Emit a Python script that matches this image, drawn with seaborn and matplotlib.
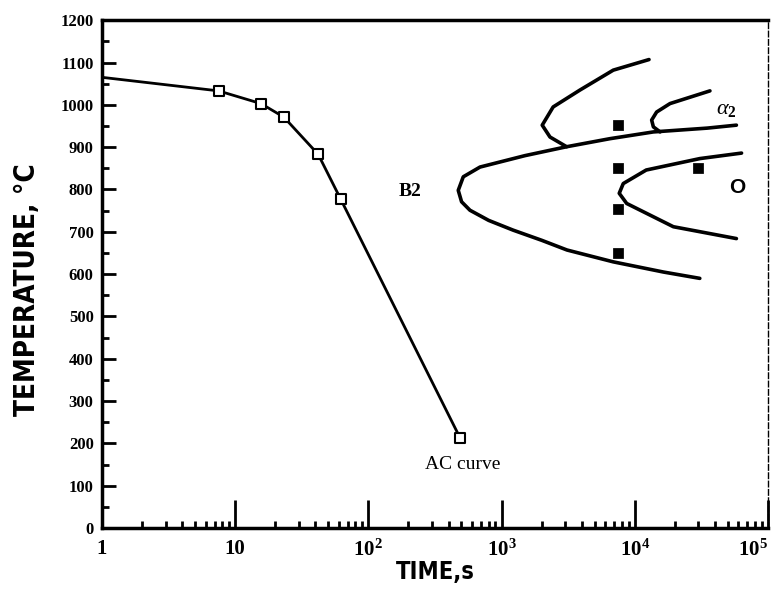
import matplotlib
matplotlib.use("Agg")
import matplotlib.pyplot as plt
import matplotlib.ticker as mticker
import seaborn as sns
import pandas as pd

# AC cooling curve (open squares, first point has no marker)
ac_time = [1, 7.5, 15.6, 23.2, 42, 62, 490]
ac_temp = [1065, 1033, 1003, 971, 883, 777, 212]

# big C-curve bounding the B2 field
b2_time = [5.8e4, 3.5e4, 1.38e4, 6.5e3, 3.08e3, 1.5e3, 689, 516, 473, 501, 579,
           800, 1.22e3, 2.0e3, 3.1e3, 6.9e3, 1.64e4, 3.08e4]
b2_temp = [952, 945, 936, 920, 901, 880, 853, 830, 798, 771, 751,
           727, 704, 680, 657, 629, 605, 590]

# upper-left curve
up_time = [1.28e4, 6.9e3, 3.88e3, 2.44e3, 2.02e3, 2.31e3, 3.08e3]
up_temp = [1107, 1082, 1035, 995, 952, 924, 901]

# alpha2 curve
a2_time = [3.67e4, 1.84e4, 1.46e4, 1.34e4, 1.38e4, 1.55e4]
a2_temp = [1033, 1003, 983, 964, 948, 936]

# O phase curve
o_time = [6.34e4, 3.08e4, 1.22e4, 8.2e3, 7.65e3, 8.7e3, 1.95e4, 5.8e4]
o_temp = [886, 873, 846, 814, 791, 767, 712, 684]

# heat treatment points (filled squares)
ht_time = [7.5e3, 7.5e3, 7.5e3, 7.5e3, 3.0e4]
ht_temp = [952, 850, 753, 651, 850]

x_ticks = [1, 10, 100, 1e3, 1e4, 1e5]
x_labels = ["1", "10", "$10^2$", "$10^3$", "$10^4$", "$10^5$"]

sns.set_style("ticks")
plt.rcParams["mathtext.fontset"] = "custom"
plt.rcParams["mathtext.rm"] = "Liberation Serif:bold"
plt.rcParams["mathtext.it"] = "Liberation Serif:italic"
plt.rcParams["mathtext.bf"] = "Liberation Serif:bold"
for key in ["text.color", "axes.labelcolor", "axes.edgecolor", "xtick.color", "ytick.color"]:
    plt.rcParams[key] = "black"

fig = plt.figure(figsize=(7.71, 5.94), dpi=100)
ax = fig.add_axes([0.1323, 0.111, 0.8637, 0.855])

ac = pd.DataFrame({"time": ac_time, "temp": ac_temp})
sns.lineplot(data=ac, x="time", y="temp", sort=False, estimator=None,
             color="black", lw=2, ax=ax)
sns.scatterplot(data=ac.iloc[1:], x="time", y="temp", marker="s", s=50,
                facecolor="white", edgecolor="black", linewidth=1.5, ax=ax, zorder=5)

for t, T in [(b2_time, b2_temp), (up_time, up_temp), (a2_time, a2_temp), (o_time, o_temp)]:
    curve = pd.DataFrame({"time": t, "temp": T})
    sns.lineplot(data=curve, x="time", y="temp", sort=False, estimator=None,
                 color="black", lw=2.6, ax=ax)

sns.scatterplot(x=ht_time, y=ht_temp, marker="s", s=45, color="black",
                edgecolor="black", ax=ax, zorder=5)

ax.set_xscale("log")
ax.set_xlim(1, 1e5)
ax.set_ylim(0, 1200)
ax.set_xticks(x_ticks)
ax.set_xticklabels(x_labels)
ax.xaxis.set_minor_locator(mticker.LogLocator(base=10, subs=range(2, 10)))
ax.xaxis.set_minor_formatter(mticker.NullFormatter())
ax.set_yticks(range(0, 1201, 100))
ax.yaxis.set_minor_locator(mticker.MultipleLocator(50))

ax.tick_params(axis="x", which="major", direction="in", length=20, width=2, pad=8)
ax.tick_params(axis="x", which="minor", direction="in", length=5, width=2)
ax.tick_params(axis="y", which="major", direction="in", length=10, width=2, pad=6)
ax.tick_params(axis="y", which="minor", direction="in", length=5, width=2)
for lab in ax.get_yticklabels():
    lab.set_fontfamily("Liberation Serif")
    lab.set_fontweight("bold")
    lab.set_fontsize(12)
for lab in ax.get_xticklabels():
    lab.set_fontfamily("Liberation Serif")
    lab.set_fontweight("bold")
    lab.set_fontsize(15)
ax.get_xticklabels()[-1].set_ha("right")

for side in ["left", "bottom", "top"]:
    ax.spines[side].set_linewidth(2.5)
ax.spines["right"].set_linewidth(1)
ax.spines["right"].set_linestyle((0, (4, 2)))

ax.set_xlabel("TIME,s", family="DejaVu Sans", fontstretch="condensed",
              fontweight="bold", fontsize=17, labelpad=0)
ax.set_ylabel("TEMPERATURE, °C", family="DejaVu Sans", fontstretch="condensed",
              fontweight="bold", fontsize=20)
ax.yaxis.set_label_coords(-0.092, 0.47)

ax.text(513, 150, "AC curve", family="Liberation Serif", fontsize=14, ha="center", va="center")
ax.text(205, 795, "B2", family="Liberation Serif", fontweight="bold", fontsize=14, ha="center", va="center")
ax.text(5.9e4, 805, "O", family="Liberation Sans", fontweight="bold", fontsize=15, ha="center", va="center")
ax.text(4.9e4, 990, r"$\alpha_2$", fontsize=16, ha="center", va="center")

fig.savefig("out.png", dpi=100)
